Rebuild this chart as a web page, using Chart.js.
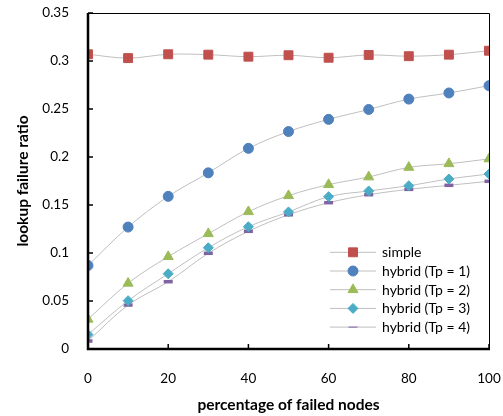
<!DOCTYPE html>
<html><head><meta charset="utf-8">
<script src="https://cdn.jsdelivr.net/npm/chart.js@4"></script>
<style>html,body{margin:0;padding:0;background:#fff}#wrap{width:503px;height:416px}</style>
</head><body><div id="wrap"><canvas id="c" width="503" height="416"></canvas></div>
<script>
const xValues = [0,10,20,30,40,50,60,70,80,90,100];
const seriesNames = ['simple','hybrid (Tp = 1)','hybrid (Tp = 2)','hybrid (Tp = 3)','hybrid (Tp = 4)'];
const simple = [0.307,0.303,0.307,0.3066,0.3045,0.306,0.3034,0.3063,0.305,0.3066,0.3107];
const hybrid1 = [0.087,0.127,0.159,0.1835,0.209,0.2265,0.2392,0.2495,0.2603,0.2667,0.2743];
const hybrid2 = [0.031,0.0685,0.0962,0.1201,0.143,0.1597,0.1712,0.1792,0.1892,0.193,0.198];
const hybrid3 = [0.015,0.0503,0.0784,0.1055,0.1274,0.1428,0.1587,0.1646,0.1701,0.1771,0.1823];
const hybrid4 = [0.0083,0.0458,0.0701,0.0997,0.1226,0.1398,0.1524,0.1607,0.1663,0.1705,0.1747];
const yTicks = [0,0.05,0.1,0.15,0.2,0.25,0.3,0.35];
const xTicks = [0,20,40,60,80,100];

const colors = ['#C0504D','#4F81BD','#9BBB59','#4BACC6','#8064A2'];
const styles = ['rect','circle','triangle','rectRot','line'];
const radii = [6.3,5,5.8,5,4.5];
const bws = [1,1,1,1,3.5];
const allData = [simple,hybrid1,hybrid2,hybrid3,hybrid4];

const datasets = allData.map((d,i)=>({
  label: seriesNames[i],
  data: d.map((v,j)=>({x:xValues[j], y:v})),
  borderColor:'#BFBFBF', borderWidth:1, tension:0.35,
  pointStyle: styles[i], pointRadius: radii[i], pointBackgroundColor: colors[i],
  pointBorderColor: colors[i], pointBorderWidth: bws[i], pointHoverRadius: radii[i]
}));

const FONT = 'Lato, "Open Sans", sans-serif';

const framePlugin = {
  id:'frame',
  afterDraw(chart){
    const ctx = chart.ctx;
    const xs = chart.scales.x, ys = chart.scales.y;
    const L = xs.getPixelForValue(0), R = xs.getPixelForValue(100);
    const T = ys.getPixelForValue(0.35), B = ys.getPixelForValue(0);
    ctx.save();
    ctx.strokeStyle = '#000';
    ctx.lineWidth = 1;
    ctx.beginPath(); ctx.moveTo(L, T+0.5); ctx.lineTo(R+0.5, T+0.5); ctx.lineTo(R+0.5, B); ctx.stroke();
    ctx.lineWidth = 2.5;
    ctx.beginPath(); ctx.moveTo(L, T); ctx.lineTo(L, B); ctx.lineTo(R+1, B); ctx.stroke();
    ctx.lineWidth = 1.5;
    yTicks.forEach(v=>{ const y = ys.getPixelForValue(v); ctx.beginPath(); ctx.moveTo(L, y); ctx.lineTo(L+5, y); ctx.stroke(); });
    xTicks.forEach(v=>{ const x = xs.getPixelForValue(v); ctx.beginPath(); ctx.moveTo(x, B); ctx.lineTo(x, B-5); ctx.stroke(); });
    // legend
    const lx0 = 330, lx1 = 376, mx = 353, tx = 382;
    const rows = [252.3, 271, 289.7, 308.4, 327.1];
    ctx.font = '14px ' + FONT;
    ctx.textBaseline = 'middle';
    ctx.textAlign = 'left';
    chart.data.datasets.forEach((ds,i)=>{
      const y = rows[i];
      ctx.strokeStyle = '#BFBFBF'; ctx.lineWidth = 1;
      ctx.beginPath(); ctx.moveTo(lx0, y); ctx.lineTo(lx1, y); ctx.stroke();
      ctx.fillStyle = colors[i]; ctx.strokeStyle = colors[i];
      Chart.helpers.drawPoint(ctx, {pointStyle: styles[i], radius: radii[i], borderWidth: bws[i], rotation:0}, mx, y);
      ctx.fillStyle = '#000';
      ctx.fillText(ds.label, tx, y+0.5);
    });
    ctx.restore();
  }
};

new Chart(document.getElementById('c'), {
  type:'line',
  data:{datasets},
  options:{
    responsive:false, animation:false,
    layout:{padding:{left:0,right:14,top:13,bottom:0}},
    plugins:{legend:{display:false}, tooltip:{enabled:false}},
    scales:{
      x:{type:'linear', min:0, max:100,
        afterBuildTicks(s){ s.ticks = xTicks.map(v=>({value:v})); },
        afterFit(s){ s.height = 67; s.paddingLeft = 0; s.paddingRight = 0; },
        grid:{display:false, drawTicks:false}, border:{display:false},
        ticks:{padding:22, color:'#000', font:{family:FONT, size:13.5}, maxRotation:0},
        title:{display:true, text:'percentage of failed nodes', color:'#000', font:{family:FONT, size:15.5, weight:'bold'}, padding:{top:0,bottom:2}}
      },
      y:{type:'linear', min:0, max:0.35,
        afterBuildTicks(s){ s.ticks = yTicks.map(v=>({value:v})); },
        afterFit(s){ s.width = 88; s.paddingTop = 0; s.paddingBottom = 0; },
        grid:{display:false, drawTicks:false}, border:{display:false},
        ticks:{padding:19, color:'#000', font:{family:FONT, size:13.5}, callback:v=>String(+v.toFixed(2))},
        title:{display:true, text:'lookup failure ratio', color:'#000', font:{family:FONT, size:15.5, weight:'bold'}, padding:{top:14,bottom:0}}
      }
    }
  },
  plugins:[framePlugin]
});
</script></body></html>
